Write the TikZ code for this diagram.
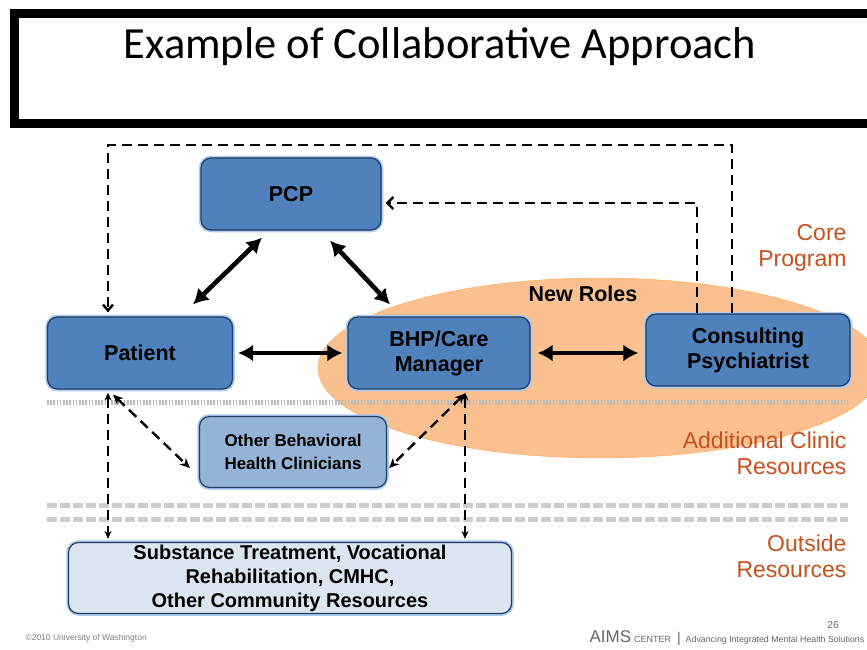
\documentclass[tikz,border=0pt]{standalone}
\usepackage{fontspec}
\setmainfont{Liberation Sans}
\newfontfamily\titlefont{Carlito}
\usepackage{tikz}
\usetikzlibrary{arrows.meta}
\definecolor{boxblue}{HTML}{4F81BD}
\definecolor{lightblue}{HTML}{95B3D7}
\definecolor{paleblue}{HTML}{DCE6F2}
\definecolor{boxedge}{HTML}{243A5E}
\definecolor{glowblue}{HTML}{A9CCF0}
\definecolor{roleorange}{HTML}{FAC090}
\definecolor{labelred}{HTML}{C8501E}

\begin{document}
\begin{tikzpicture}[x=1pt, y=-1pt,
    box/.style={draw=boxedge, line width=1.2pt, rounded corners=10pt, fill=boxblue,
        preaction={draw=glowblue, line width=4.5pt}, align=center,
        font=\bfseries\fontsize{21.5}{25}\selectfont, inner sep=2pt},
    bigarrow/.style={{Latex[length=15pt,width=17pt]}-{Latex[length=15pt,width=17pt]}, line width=4.6pt},
    dasharrow/.style={dash pattern=on 10pt off 6pt, line width=2.4pt},
    sidelabel/.style={text=labelred, align=right, anchor=east, font=\fontsize{23}{26}\selectfont}]
            \useasboundingbox (0,0) rectangle (867,649);
            \fill[white] (0,0) rectangle (867,649);

            % Titulo
            \draw[line width=9pt] (14.5,13) rectangle (900,123);
            \node[font=\titlefont\fontsize{44.5}{46}\selectfont] (title) at (440,47) {Example of Collaborative Approach};

            % Fondo
            \draw[fill=roleorange, draw=orange!70] (600,368) ellipse [x radius=282, y radius=90];
            \node[font=\bfseries\fontsize{21.5}{24}\selectfont] (roles) at (583,294) {New Roles};
            \draw[gray!55, line width=5pt, dash pattern=on 1.6pt off 1.6pt] (47,402) -- (848,402);
            \draw[gray!40, line width=5pt, dash pattern=on 10pt off 3pt] (47,505) -- (848,505);
            \draw[gray!40, line width=5pt, dash pattern=on 10pt off 3pt] (47,519) -- (848,519);

            % Cajas
            \node[box, minimum width=180pt, minimum height=72pt] (pcp) at (291,194) {PCP};
            \node[box, minimum width=185pt, minimum height=72pt] (patient) at (140,353) {Patient};
            \node[box, minimum width=182pt, minimum height=72pt] (bhp) at (439,353) {BHP/Care\\Manager};
            \node[box, minimum width=204pt, minimum height=72pt] (consult) at (748,350) {Consulting\\Psychiatrist};
            \node[box, fill=lightblue, minimum width=187pt, minimum height=71pt, font=\bfseries\fontsize{17}{23}\selectfont] (others) at (293,452) {Other Behavioral\\Health Clinicians};
            \node[box, fill=paleblue, minimum width=443pt, minimum height=71pt, font=\bfseries\fontsize{20}{24}\selectfont] (outside) at (290,578) {Substance Treatment, Vocational\\Rehabilitation, CMHC,\\Other Community Resources};

            % Etiquetas
            \node[sidelabel] (core) at (850,248) {Core\\Program};
            \node[sidelabel] (clinic) at (850,453) {Additional Clinic\\Resources};
            \node[sidelabel] (outres) at (850,556) {Outside\\Resources};

            % Flechas
            \draw[bigarrow] ([shift={(53,-12)}]patient.north) -- ([shift={(-29,7)}]pcp.south);
            \draw[bigarrow] ([shift={(39,10)}]pcp.south) -- ([shift={(-49,-12)}]bhp.north);
            \draw[bigarrow, shorten <=5pt, shorten >=5pt] (patient) -- (bhp);
            \draw[bigarrow, shorten <=7pt, shorten >=7pt] (bhp.east) -- (bhp.east -| consult.west);

            \coordinate (cp1) at ([xshift=-16pt]consult.north);
            \coordinate (cp2) at ([xshift=-51pt]consult.north);
            \coordinate (pt1) at ([xshift=-32pt]patient.north);
            \coordinate (pv) at ([xshift=-32pt]patient.south);
            \coordinate (bv) at ([xshift=26pt]bhp.south);
            \draw[dasharrow, -{Straight Barb[length=6pt,width=10pt]}] (cp1) -- (cp1 |- 0,145) -- (pt1 |- 0,145) -- ([yshift=4pt]pt1);
            \draw[dasharrow, -{Straight Barb[length=6pt,width=12pt]}] (cp2) -- (cp2 |- 0,203) -- ([shift={(4,9)}]pcp.east);
            \draw[dasharrow, {Stealth[length=10pt,width=9pt]}-{Stealth[length=10pt,width=9pt]}] ([shift={(-27,5)}]patient.south) -- ([shift={(-9,16)}]others.west);
            \draw[dasharrow, {Stealth[length=10pt,width=9pt]}-{Stealth[length=10pt,width=9pt]}] ([shift={(26,4)}]bhp.south) -- ([shift={(2,16)}]others.east);
            \draw[dasharrow, {Stealth[length=8pt,width=7pt]}-{Stealth[length=8pt,width=7pt]}] ([yshift=-3pt]pv) -- ([yshift=3pt]pv |- outside.north);
            \draw[dasharrow, {Stealth[length=8pt,width=7pt]}-{Stealth[length=8pt,width=7pt]}] ([yshift=-3pt]bv) -- ([yshift=3pt]bv |- outside.north);

            % Pie
            \node[gray, anchor=west, font=\fontsize{8.5}{9}\selectfont] (copy) at (22,638) {\textcopyright2010 University of Washington};
            \node[gray!80!black, font=\fontsize{10}{11}\selectfont] (page) at (833,625) {26};
            \node[gray!80!black, anchor=west, font=\fontsize{17}{18}\selectfont] (aims) at (586,638) {AIMS\hspace{3pt}{\fontsize{9}{9}\selectfont CENTER}\hspace{6pt}{\fontsize{14}{15}\selectfont |}\hspace{5pt}{\fontsize{8.8}{9}\selectfont Advancing Integrated Mental Health Solutions}};
          \end{tikzpicture}
\end{document}
